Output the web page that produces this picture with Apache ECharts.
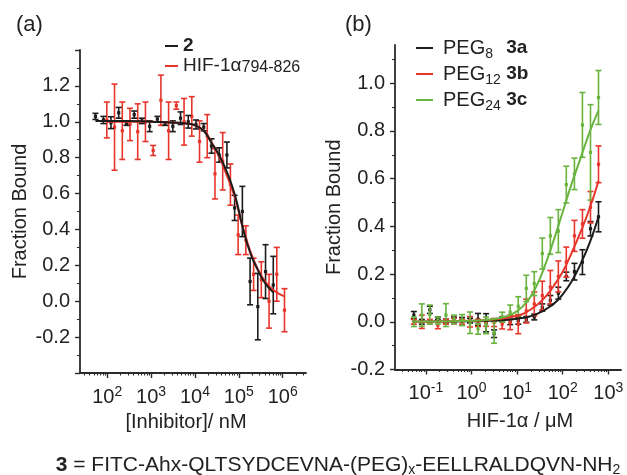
<!DOCTYPE html>
<html><head><meta charset="utf-8">
<script src="https://cdn.jsdelivr.net/npm/echarts@6.0.0/dist/echarts.min.js"></script>
<style>html,body{margin:0;padding:0;background:#fff}#chart{width:627px;height:475px}</style>
</head><body><div id="chart"></div>
<script>
// ---------------- data: panel (a) ----------------
const aNames = ['2', 'HIF-1α794-826'];
const aX_2 = [54, 82, 122, 183, 275, 413, 619, 929, 1393, 2090, 3134, 4701, 7052, 10578, 15868, 23801, 35702, 53553, 80329, 120494, 180741, 271111, 406667, 610000];
const aY_2 = [1.03, 1.01, 0.995, 1.05, 0.99, 1.04, 1.005, 0.975, 1.015, 0.99, 0.975, 1.02, 1.0, 0.985, 0.97, 0.865, 0.815, 0.815, 0.52, 0.50, 0.11, -0.03, 0.165, 0.09];
const aE_2 = [0.017, 0.02, 0.033, 0.03, 0.01, 0.02, 0.015, 0.03, 0.015, 0.01, 0.03, 0.035, 0.035, 0.025, 0.02, 0.04, 0.04, 0.072, 0.07, 0.14, 0.13, 0.185, 0.15, 0.16];
const aX_hif = [98, 147, 221, 331, 496, 744, 1116, 1675, 2512, 3768, 5652, 8478, 12717, 19076, 28614, 42920, 64380, 96571, 144856, 217284, 325926, 488889, 733333, 1100000];
const aY_hif = [1.01, 0.97, 0.95, 0.985, 0.945, 1.0, 0.84, 1.12, 0.95, 1.09, 1.0, 1.03, 0.89, 0.92, 0.71, 0.78, 0.65, 0.37, 0.34, 0.15, 0.12, 0.0, 0.15, -0.05];
const aE_hif = [0.10, 0.24, 0.16, 0.09, 0.155, 0.11, 0.028, 0.14, 0.16, 0.02, 0.13, 0.11, 0.115, 0.12, 0.14, 0.16, 0.115, 0.11, 0.08, 0.09, 0.10, 0.15, 0.15, 0.12];
const aFitX_2 = [54, 316, 1000, 3162, 6310, 10000, 15849, 23442, 35481, 53703, 83176, 120226, 181970, 269153, 398107, 610000];
const aFitY_2 = [1.005, 1.005, 1.0, 0.995, 0.99, 0.98, 0.95, 0.885, 0.815, 0.72, 0.585, 0.42, 0.27, 0.176, 0.10, 0.05];
const aFitX_hif = [98, 316, 1000, 3162, 6310, 10000, 15849, 23442, 35481, 53703, 83176, 120226, 181970, 269153, 398107, 630957, 1096478];
const aFitY_hif = [1.0, 1.0, 1.0, 0.995, 0.99, 0.98, 0.95, 0.89, 0.805, 0.70, 0.57, 0.42, 0.28, 0.18, 0.11, 0.06, 0.027];

// ---------------- data: panel (b) ----------------
const bNames = ['PEG8 3a', 'PEG12 3b', 'PEG24 3c'];
const bX = [0.0544, 0.0815, 0.122, 0.183, 0.275, 0.413, 0.619, 0.929, 1.39, 2.09, 3.13, 4.70, 7.05, 10.6, 15.9, 23.8, 35.7, 53.6, 80.3, 120, 181, 271, 407, 610];
const bY_3a = [0.028, 0.0, 0.05, 0.015, 0.003, 0.01, 0.01, 0.005, 0.01, -0.004, -0.05, 0.01, 0.0, 0.005, 0.01, 0.02, 0.06, 0.09, 0.12, 0.19, 0.21, 0.25, 0.39, 0.44];
const bE_3a = [0.015, 0.01, 0.015, 0.005, 0.008, 0.01, 0.008, 0.01, 0.025, 0.038, 0.016, 0.01, 0.012, 0.015, 0.012, 0.012, 0.015, 0.02, 0.025, 0.018, 0.035, 0.052, 0.03, 0.063];
const bY_3b = [0.0, 0.0, 0.0, -0.014, 0.0, 0.003, 0.0, 0.0, -0.005, -0.005, -0.003, -0.01, -0.003, -0.01, 0.045, 0.075, 0.11, 0.145, 0.19, 0.25, 0.36, 0.41, 0.48, 0.66];
const bE_3b = [0.01, 0.028, 0.01, 0.015, 0.01, 0.012, 0.01, 0.022, 0.015, 0.014, 0.017, 0.02, 0.03, 0.04, 0.05, 0.05, 0.06, 0.07, 0.065, 0.063, 0.065, 0.06, 0.066, 0.077];
const bY_3c = [0.0, 0.028, 0.03, 0.005, 0.028, 0.01, 0.007, -0.004, -0.03, -0.015, -0.045, 0.02, 0.04, 0.065, 0.14, 0.16, 0.286, 0.36, 0.38, 0.575, 0.62, 0.825, 0.71, 0.94];
const bE_3c = [0.02, 0.047, 0.04, 0.015, 0.048, 0.018, 0.023, 0.045, 0.022, 0.035, 0.045, 0.02, 0.03, 0.04, 0.055, 0.05, 0.065, 0.077, 0.09, 0.077, 0.066, 0.136, 0.2, 0.113];
const bFitX_3a = [0.0544, 1, 3.16, 10, 25.1, 63.1, 100, 158, 251, 398, 610];
const bFitY_3a = [0.0, 0.002, 0.005, 0.013, 0.03, 0.075, 0.115, 0.17, 0.245, 0.335, 0.44];
const bFitX_3b = [0.0544, 1, 3.16, 10, 15.8, 25.1, 39.8, 63.1, 100, 158, 251, 398, 610];
const bFitY_3b = [0.0, 0.004, 0.01, 0.025, 0.04, 0.065, 0.10, 0.15, 0.21, 0.29, 0.38, 0.48, 0.59];
const bFitX_3c = [0.0544, 1, 3.16, 6.31, 10, 15.8, 25.1, 39.8, 63.1, 100, 158, 251, 398, 610];
const bFitY_3c = [0.0, 0.004, 0.012, 0.025, 0.045, 0.08, 0.14, 0.23, 0.34, 0.46, 0.58, 0.69, 0.80, 0.885];

// ---------------- tick values ----------------
const xTicksA = [100, 1000, 10000, 100000, 1000000];
const xTicksB = [0.1, 1, 10, 100, 1000];
const yTicksA = [-0.4, -0.2, 0, 0.2, 0.4, 0.6, 0.8, 1.0, 1.2, 1.4];
const yLabelsA = [-0.2, 0, 0.2, 0.4, 0.6, 0.8, 1.0, 1.2];
const yMinorA = [-0.3, -0.1, 0.1, 0.3, 0.5, 0.7, 0.9, 1.1, 1.3];
const yTicksB = [-0.2, 0, 0.2, 0.4, 0.6, 0.8, 1.0];
const yLabelsB = [-0.2, 0, 0.2, 0.4, 0.6, 0.8, 1.0];
const yMinorB = [-0.1, 0.1, 0.3, 0.5, 0.7, 0.9, 1.1];

// ---------------- style ----------------
const FONT = '"Liberation Sans", Arial, Helvetica, sans-serif';
const TXT = '#222';
const AXIS = '#2b2b2b';
const BLACK = '#1c1c1c', RED = '#e8352b', GREEN = '#69b33f';
const X_RANGE_A = [24, 3.4e6], Y_RANGE_A = [-0.4, 1.4];
const X_RANGE_B = [0.021, 1900], Y_RANGE_B = [-0.2, 1.16];

function minorLogTicks(min, max) {
  const out = [];
  for (let d = Math.floor(Math.log10(min)); d <= Math.ceil(Math.log10(max)); d++) {
    for (let k = 2; k <= 9; k++) {
      const v = k * Math.pow(10, d);
      if (v >= min && v <= max) out.push(v);
    }
  }
  return out;
}
const pow10Label = v => '10{sup|' + Math.round(Math.log10(v)) + '}';
const fix1 = v => (Math.abs(v) < 1e-9 ? '0.0' : v.toFixed(1));
const nameStyle = (pad) => ({ fontSize: 20, color: TXT, fontFamily: FONT, padding: pad });

function xAxes(grid, range, majors, name, gap, pad) {
  return [{
    type: 'log', gridIndex: grid, position: 'bottom', min: range[0], max: range[1],
    axisLine: { show: true, onZero: false, lineStyle: { color: AXIS, width: 1.8 } },
    axisTick: { show: true, length: 5, customValues: majors, lineStyle: { color: AXIS, width: 1.4 } },
    axisLabel: { show: true, customValues: majors, formatter: pow10Label, margin: 12, color: TXT,
      fontSize: 20, lineHeight: 24, fontFamily: FONT,
      rich: { sup: { fontSize: 14, lineHeight: 12, verticalAlign: 'top', color: TXT, fontFamily: FONT } } },
    splitLine: { show: false }, minorTick: { show: false },
    name: name, nameLocation: 'middle', nameGap: gap, nameMoveOverlap: false, nameTextStyle: nameStyle(pad)
  }, {
    type: 'log', gridIndex: grid, position: 'bottom', min: range[0], max: range[1],
    axisLine: { show: false, onZero: false }, axisLabel: { show: false }, splitLine: { show: false },
    axisTick: { show: true, length: 2.5, customValues: minorLogTicks(range[0], range[1]), lineStyle: { color: AXIS, width: 1.1 } }
  }];
}
function yAxes(grid, range, majors, labels, minors, gap) {
  return [{
    type: 'value', gridIndex: grid, position: 'left', min: range[0], max: range[1],
    axisLine: { show: true, onZero: false, lineStyle: { color: AXIS, width: 1.8 } },
    axisTick: { show: true, length: 5, customValues: majors, lineStyle: { color: AXIS, width: 1.4 } },
    axisLabel: { show: true, customValues: labels, formatter: fix1, margin: 10, color: TXT, fontSize: 20, fontFamily: FONT },
    splitLine: { show: false },
    name: 'Fraction Bound', nameLocation: 'middle', nameGap: gap, nameMoveOverlap: false, nameTextStyle: nameStyle(0)
  }, {
    type: 'value', gridIndex: grid, position: 'left', min: range[0], max: range[1],
    axisLine: { show: false, onZero: false }, axisLabel: { show: false }, splitLine: { show: false },
    axisTick: { show: true, length: 3, customValues: minors, lineStyle: { color: AXIS, width: 1.1 } }
  }];
}
function errorSeries(name, xs, ys, es, color, ai, z) {
  return {
    type: 'custom', name: name, xAxisIndex: ai, yAxisIndex: ai, z: z, color: color,
    itemStyle: { color: color },
    data: xs.map((x, i) => [x, ys[i], es[i]]),
    encode: { x: 0, y: 1 },
    renderItem: function (params, api) {
      const x = api.value(0), y = api.value(1), e = api.value(2);
      const t = api.coord([x, y + e]), b = api.coord([x, y - e]), c = api.coord([x, y]);
      const cap = 3;
      const st = { stroke: color, lineWidth: 1.6 };
      return { type: 'group', children: [
        { type: 'line', shape: { x1: t[0], y1: t[1], x2: b[0], y2: b[1] }, style: st },
        { type: 'line', shape: { x1: t[0] - cap, y1: t[1], x2: t[0] + cap, y2: t[1] }, style: st },
        { type: 'line', shape: { x1: b[0] - cap, y1: b[1], x2: b[0] + cap, y2: b[1] }, style: st },
        { type: 'rect', shape: { x: c[0] - 1.6, y: c[1] - 1.6, width: 3.2, height: 3.2 }, style: { fill: color } }
      ] };
    }
  };
}
function fitSeries(name, xs, ys, color, ai, z) {
  return {
    type: 'line', name: name, xAxisIndex: ai, yAxisIndex: ai, z: z, color: color,
    data: xs.map((x, i) => [x, ys[i]]),
    smooth: 0.5, symbol: 'none', showSymbol: false,
    lineStyle: { color: color, width: 2 }, itemStyle: { color: color }
  };
}

const legendTextA = { '2': '{b|2}', 'HIF-1α794-826': 'HIF-1α{sub|794-826}' };
const legendTextB = { 'PEG8 3a': 'PEG{sub|8}{b|3a}', 'PEG12 3b': 'PEG{sub|12}{b|3b}', 'PEG24 3c': 'PEG{sub|24}{b|3c}' };

const chart = echarts.init(document.getElementById('chart'), null, { renderer: 'canvas' });
chart.setOption({
  animation: false,
  backgroundColor: '#fff',
  grid: [
    { left: 80, top: 50, width: 226, height: 323, outerBoundsMode: 'none' },
    { left: 395, top: 45, width: 226, height: 324.5, outerBoundsMode: 'none' }
  ],
  xAxis: [].concat(
    xAxes(0, X_RANGE_A, xTicksA, '[Inhibitor]/ nM', 39, [0, 14, 0, 0]),
    xAxes(1, X_RANGE_B, xTicksB, 'HIF-1α / μM', 42, [0, 0, 0, 24])
  ),
  yAxis: [].concat(
    yAxes(0, Y_RANGE_A, yTicksA, yLabelsA, yMinorA, 50),
    yAxes(1, Y_RANGE_B, yTicksB, yLabelsB, yMinorB, 51)
  ),
  legend: [{
    data: aNames, orient: 'vertical', left: 160, top: 31, icon: 'rect', itemWidth: 13, itemHeight: 2, itemGap: 0,
    selectedMode: false, formatter: n => legendTextA[n],
    textStyle: { fontSize: 19, lineHeight: 20, color: TXT, fontFamily: FONT,
      rich: { b: { fontSize: 19, lineHeight: 20, fontWeight: 'bold', color: TXT, fontFamily: FONT },
              sub: { fontSize: 16, lineHeight: 11, verticalAlign: 'bottom', color: TXT, fontFamily: FONT } } }
  }, {
    data: bNames, orient: 'vertical', left: 411, top: 30, icon: 'rect', itemWidth: 17, itemHeight: 2, itemGap: 0,
    selectedMode: false, formatter: n => legendTextB[n],
    textStyle: { fontSize: 20, lineHeight: 26, color: TXT, fontFamily: FONT, padding: [0, 0, 0, 5],
      rich: { b: { fontSize: 19, lineHeight: 26, fontWeight: 'bold', color: TXT, fontFamily: FONT },
              sub: { fontSize: 14, lineHeight: 12, verticalAlign: 'bottom', width: 21, color: TXT, fontFamily: FONT } } }
  }],
  graphic: [
    { type: 'text', x: 16, y: 25, style: { text: '(a)', fontSize: 22, fontFamily: FONT, fill: TXT, verticalAlign: 'middle' } },
    { type: 'text', x: 345, y: 25, style: { text: '(b)', fontSize: 22, fontFamily: FONT, fill: TXT, verticalAlign: 'middle' } },
    { type: 'text', x: 338, y: 465, style: {
        text: '{b|3} = FITC-Ahx-QLTSYDCEVNA-(PEG){s|x}-EELLRALDQVN-NH{s|2}',
        align: 'center', verticalAlign: 'middle', fontSize: 21, lineHeight: 24, fontFamily: FONT, fill: TXT,
        rich: { b: { fontSize: 21, lineHeight: 24, fontWeight: 'bold', fontFamily: FONT, fill: TXT },
                s: { fontSize: 14, lineHeight: 11, verticalAlign: 'bottom', fontFamily: FONT, fill: TXT } } } }
  ],
  series: [
    fitSeries(aNames[1], aFitX_hif, aFitY_hif, RED, 0, 4),
    fitSeries(aNames[0], aFitX_2, aFitY_2, BLACK, 0, 5),
    errorSeries(aNames[1], aX_hif, aY_hif, aE_hif, RED, 0, 2),
    errorSeries(aNames[0], aX_2, aY_2, aE_2, BLACK, 0, 3),

    fitSeries(bNames[0], bFitX_3a, bFitY_3a, BLACK, 2, 4),
    fitSeries(bNames[1], bFitX_3b, bFitY_3b, RED, 2, 5),
    fitSeries(bNames[2], bFitX_3c, bFitY_3c, GREEN, 2, 6),
    errorSeries(bNames[0], bX, bY_3a, bE_3a, BLACK, 2, 2),
    errorSeries(bNames[1], bX, bY_3b, bE_3b, RED, 2, 2),
    errorSeries(bNames[2], bX, bY_3c, bE_3c, GREEN, 2, 3)
  ]
});
</script></body></html>
